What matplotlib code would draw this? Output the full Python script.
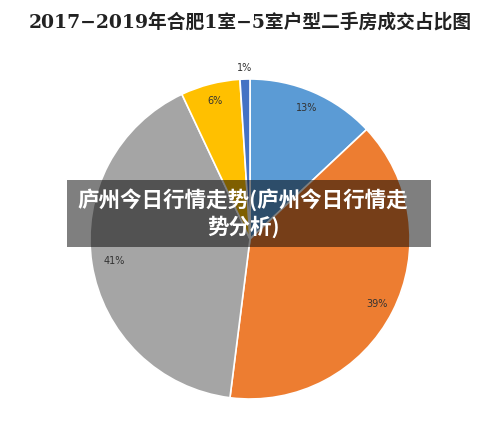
import matplotlib.pyplot as plt
from matplotlib.patches import Rectangle
import numpy as np

plt.rcParams['font.family'] = ['Noto Sans CJK SC', 'DejaVu Sans']

title = "2017−2019年合肥1室−5室户型二手房成交占比图"
shares = [13, 39, 41, 6, 1]
share_labels = ["13%", "39%", "41%", "6%", "1%"]
colors = ["#5B9BD5", "#ED7D31", "#A5A5A5", "#FFC000", "#4472C4"]
overlay_text = "庐州今日行情走势(庐州今日行情走\n势分析)"


def main():
    fig = plt.figure(figsize=(5, 4.3), dpi=100)
    ax = fig.add_axes([0, 0, 1, 1])

    cx, cy, r = 250, 191, 160
    wedges, _ = ax.pie(shares, colors=colors, startangle=90, counterclock=False,
                       radius=r, center=(cx, cy),
                       wedgeprops=dict(edgecolor="white", linewidth=1.2))
    ax.set_xlim(0, 500)
    ax.set_ylim(0, 430)
    ax.set_aspect("equal")
    ax.axis("off")

    dists = [0.89, 0.89, 0.86, 0.89, 1.07]
    for w, lab, d in zip(wedges, share_labels, dists):
        ang = np.deg2rad((w.theta1 + w.theta2) / 2)
        ax.text(cx + d * r * np.cos(ang), cy + d * r * np.sin(ang), lab,
                ha="center", va="center", fontsize=7, color="#333333",
                family=["DejaVu Sans"])

    fig.text(0.5, 1 - 22 / 430, title, ha="center", va="center",
             fontsize=13.5, fontweight="bold", color="#222222",
             family=["DejaVu Serif", "Noto Sans CJK SC"])

    # watermark band
    fig.patches.append(Rectangle((67 / 500, 1 - 247 / 430), 364 / 500, 67 / 430,
                                 transform=fig.transFigure, facecolor="black",
                                 alpha=0.5, edgecolor="none", zorder=5))
    fig.text(243 / 500, 1 - 213 / 430, overlay_text, ha="center", va="center",
             fontsize=15.5, fontweight="bold", color="white", linespacing=1.2,
             zorder=6)

    fig.savefig("out.png", dpi=100)


if __name__ == "__main__":
    main()
